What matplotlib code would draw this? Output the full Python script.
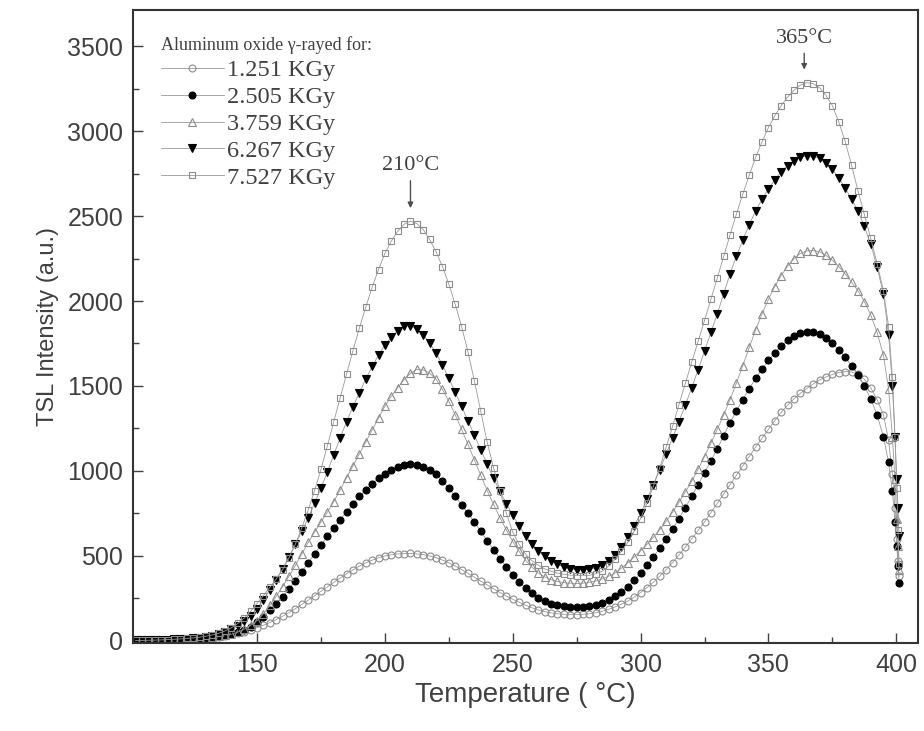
import numpy as np
import matplotlib
matplotlib.use("Agg")
import matplotlib.pyplot as plt
from matplotlib.ticker import MultipleLocator

# temperature grid (deg C): 2.5 degree steps, then the fast drop at the end of the run
temp = list(np.arange(102.5, 395.1, 2.5)) + [397, 398.5, 399.5, 400.2, 400.7, 401.1]

# TSL intensity (a.u.)
dose_1251 = [
    3, 4, 4, 5, 6, 7, 8, 9, 10, 12, 14, 17, 21, 25, 31, 38, 46, 55, 66, 78,
    92, 108, 126, 145, 167, 190, 215, 240, 266, 292, 318, 345, 370, 395, 418, 440, 459, 475, 489, 500,
    507, 512, 514, 515, 512, 508, 500, 490, 476, 460, 441, 420, 398, 375, 352, 330, 307, 285, 264, 245,
    227, 210, 195, 182, 172, 165, 160, 157, 155, 155, 157, 160, 166, 175, 186, 200, 216, 235, 258, 285,
    314, 345, 381, 420, 461, 505, 552, 600, 650, 700, 755, 810, 865, 920, 975, 1030, 1085, 1140, 1193, 1245,
    1296, 1345, 1387, 1425, 1457, 1485, 1512, 1535, 1553, 1568, 1579, 1585, 1582, 1570, 1540, 1490, 1420, 1330,
    1180, 980, 780, 600, 470, 380]

dose_2505 = [
    3, 3, 4, 4, 5, 6, 7, 9, 11, 13, 16, 19, 23, 28, 33, 40, 50, 65, 85, 110,
    143, 180, 218, 260, 306, 355, 407, 460, 513, 565, 615, 665, 713, 760, 806, 850, 889, 925, 957, 985,
    1008, 1025, 1036, 1040, 1035, 1025, 1006, 980, 943, 900, 852, 800, 750, 700, 645, 590, 537, 485, 436, 390,
    348, 310, 280, 255, 236, 220, 210, 203, 199, 198, 200, 205, 213, 225, 241, 262, 289, 320, 357, 400,
    446, 495, 546, 600, 658, 720, 784, 850, 919, 990, 1060, 1130, 1208, 1285, 1355, 1420, 1484, 1545, 1600, 1650,
    1695, 1735, 1768, 1795, 1812, 1820, 1816, 1805, 1781, 1750, 1713, 1670, 1620, 1565, 1500, 1425, 1330, 1200,
    1050, 880, 700, 560, 440, 340]

dose_3759 = [
    3, 3, 4, 4, 5, 6, 7, 9, 11, 13, 16, 19, 23, 28, 33, 40, 52, 70, 92, 120,
    160, 210, 263, 320, 381, 445, 512, 580, 640, 700, 758, 820, 888, 960, 1030, 1100, 1170, 1240, 1312, 1380,
    1440, 1490, 1537, 1575, 1598, 1595, 1575, 1540, 1480, 1410, 1330, 1245, 1156, 1065, 975, 885, 803, 725, 653, 585,
    527, 475, 434, 400, 377, 360, 350, 343, 340, 338, 340, 345, 353, 365, 381, 400, 428, 460, 494, 530,
    568, 610, 655, 705, 757, 815, 876, 940, 1010, 1085, 1163, 1245, 1330, 1420, 1518, 1620, 1727, 1830, 1925, 2010,
    2085, 2150, 2205, 2250, 2280, 2295, 2297, 2290, 2268, 2240, 2203, 2160, 2112, 2060, 1997, 1920, 1815, 1680,
    1480, 1200, 950, 720, 560, 420]

dose_6267 = [
    3, 3, 4, 5, 6, 7, 9, 11, 13, 16, 20, 25, 31, 40, 52, 68, 89, 115, 148, 190,
    242, 300, 360, 425, 495, 570, 645, 725, 810, 900, 995, 1095, 1195, 1290, 1378, 1460, 1540, 1615, 1682, 1740,
    1787, 1825, 1852, 1855, 1835, 1800, 1752, 1695, 1625, 1545, 1463, 1380, 1295, 1210, 1125, 1040, 958, 880, 808, 740,
    677, 620, 572, 530, 497, 470, 450, 435, 425, 420, 419, 422, 431, 445, 470, 505, 552, 610, 677, 750,
    833, 920, 1008, 1100, 1195, 1290, 1388, 1490, 1595, 1705, 1815, 1925, 2043, 2160, 2265, 2360, 2450, 2530, 2598, 2660,
    2713, 2760, 2797, 2825, 2845, 2855, 2852, 2840, 2812, 2775, 2725, 2665, 2600, 2530, 2440, 2335, 2200, 2040,
    1800, 1500, 1200, 950, 780, 620]

dose_7527 = [
    3, 3, 4, 5, 6, 8, 10, 12, 15, 18, 22, 28, 35, 45, 59, 78, 103, 135, 175, 220,
    267, 315, 365, 420, 490, 570, 665, 770, 885, 1010, 1148, 1290, 1430, 1570, 1708, 1840, 1963, 2080, 2185, 2280,
    2352, 2410, 2452, 2470, 2455, 2420, 2362, 2290, 2203, 2100, 1980, 1850, 1700, 1530, 1350, 1170, 1018, 880, 752, 640,
    568, 510, 472, 445, 424, 410, 399, 392, 387, 385, 384, 386, 395, 410, 440, 480, 527, 580, 645, 720,
    810, 910, 1020, 1140, 1262, 1390, 1515, 1640, 1762, 1885, 2010, 2135, 2262, 2390, 2512, 2630, 2740, 2845, 2937, 3020,
    3090, 3150, 3200, 3240, 3270, 3285, 3278, 3255, 3210, 3150, 3055, 2940, 2800, 2650, 2510, 2370, 2220, 2060,
    1850, 1550, 1200, 900, 650, 450]

doses = ["1.251 KGy", "2.505 KGy", "3.759 KGy", "6.267 KGy", "7.527 KGy"]
curves = [dose_1251, dose_2505, dose_3759, dose_6267, dose_7527]

# marker, size, face colour, edge colour for each dose
styles = [
    ("o", 5.0, "none", "0.55"),
    ("o", 5.0, "black", "black"),
    ("^", 5.6, "none", "0.55"),
    ("v", 6.2, "black", "black"),
    ("s", 4.8, "none", "0.55"),
]

serif = ["Liberation Serif", "DejaVu Serif"]
plt.rcParams["font.family"] = ["Liberation Sans", "DejaVu Sans"]

fig = plt.figure(figsize=(9.24, 7.31), dpi=100)
ax = fig.add_axes([0.144, 0.1204, 0.8495, 0.8659])

for name, y, (m, ms, fc, ec) in zip(doses, curves, styles):
    ax.plot(temp, y, color="0.6", lw=0.6, marker=m, ms=ms,
            mfc=fc, mec=ec, mew=0.8, label=name)

ax.set_xlim(101.5, 408.5)
ax.set_ylim(-12, 3712)
ax.xaxis.set_major_locator(MultipleLocator(50))
ax.xaxis.set_minor_locator(MultipleLocator(25))
ax.yaxis.set_major_locator(MultipleLocator(500))
ax.yaxis.set_minor_locator(MultipleLocator(250))
ax.tick_params(which="both", direction="in", top=False, right=False,
               labelsize=18, colors="0.25", width=1.0)
ax.tick_params(which="major", length=7, pad=7)
ax.tick_params(which="minor", length=4)
for s in ax.spines.values():
    s.set_linewidth(1.5)
    s.set_color("0.2")

ax.set_xlabel("Temperature ( °C)", fontsize=20, color="0.25", labelpad=4)
ax.set_ylabel("TSL Intensity (a.u.)", fontsize=17, color="0.25", labelpad=6)

# peak markers
ax.annotate("210°C", xy=(210, 2530), xytext=(210, 2740), ha="center", va="bottom",
            fontsize=16, family=serif, color="0.25",
            arrowprops=dict(arrowstyle="-|>", color="0.3", lw=1.0, mutation_scale=8))
ax.annotate("365°C", xy=(364, 3345), xytext=(364, 3490), ha="center", va="bottom",
            fontsize=16, family=serif, color="0.25",
            arrowprops=dict(arrowstyle="-|>", color="0.3", lw=1.0, mutation_scale=8))

leg = ax.legend(title="Aluminum oxide γ-rayed for:", loc="upper left",
                bbox_to_anchor=(0.035, 0.958), borderaxespad=0, borderpad=0,
                frameon=False, numpoints=1, handlelength=2.6, handletextpad=0.15,
                labelspacing=0.2, alignment="left",
                prop={"family": serif, "size": 17.5},
                title_fontproperties={"family": serif, "size": 13})
for t in leg.get_texts():
    t.set_color("0.25")
leg.get_title().set_color("0.25")

fig.savefig("out.png", dpi=100)
